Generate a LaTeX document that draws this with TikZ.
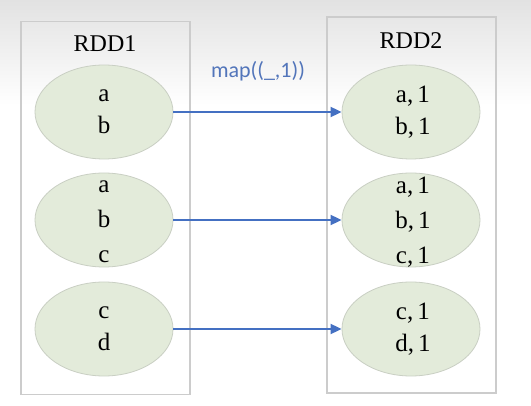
\documentclass[tikz,border=0pt]{standalone}
\usepackage{fontspec}
\setmainfont{Liberation Serif}
\newfontfamily\labelfont{Carlito}
\usetikzlibrary{shapes.geometric,arrows.meta}
\definecolor{partfill}{HTML}{E3EBDA}
\definecolor{partline}{HTML}{C9CFC3}
\definecolor{boxline}{HTML}{CCCCCC}
\definecolor{flowblue}{HTML}{4470C2}
\definecolor{labelblue}{HTML}{5275BA}
\definecolor{topshade}{HTML}{E2E2E2}
\begin{document}
\begin{tikzpicture}[x=1pt,y=-1pt,
  rddbox/.style={draw=boxline,line width=1.3pt,minimum width=169pt,inner sep=0pt},
  rddtitle/.style={font=\fontsize{24}{28}\selectfont,inner sep=0pt},
  part/.style={ellipse,draw=partline,line width=0.8pt,fill=partfill,
    minimum width=138pt,minimum height=94pt,inner sep=0pt},
  items/.style={inner sep=0pt,align=center,font=\fontsize{25}{32}\selectfont},
  items3/.style={items,font=\fontsize{25}{35}\selectfont},
  flow/.style={draw=flowblue,line width=1.8pt,-{Triangle[length=11pt,width=10pt]}}]
\useasboundingbox (0,0) rectangle (531,406);
% background: light grey band fading out towards the middle
\fill[white] (0,0) rectangle (531,406);
\shade[top color=topshade,bottom color=white] (0,0) rectangle (531,105);

% partition containers
\node[rddbox,minimum height=373pt] (box1) at (105.5,208) {};
\node[rddbox,minimum height=376pt] (box2) at (411.5,205) {};
\node[rddtitle] (t1) at (105,44) {RDD1};
\node[rddtitle] (t2) at (411,41) {RDD2};

% partitions of RDD1
\node[part] (p1) at (104,112) {};
\node[part] (p2) at (104,220) {};
\node[part] (p3) at (104,329) {};
\node[items]  (p1t) at (p1) {a\\b};
\node[items3] (p2t) at (104,222) {a\\b\\c};
\node[items]  (p3t) at (p3) {c\\d};

% partitions of RDD2
\node[part] (q1) at (411,112) {};
\node[part] (q2) at (411,220) {};
\node[part] (q3) at (411,329) {};
\node[items]  (q1t) at (413,112) {a,\,1\\b,\,1};
\node[items3] (q2t) at (413,222) {a,\,1\\b,\,1\\c,\,1};
\node[items]  (q3t) at (413,329) {c,\,1\\d,\,1};

% transformation
\draw[flow] (p1.east) -- (q1.west);
\draw[flow] (p2.east) -- (q2.west);
\draw[flow] (p3.east) -- (q3.west);
\node[text=labelblue,font=\labelfont\fontsize{22}{26}\selectfont,inner sep=0pt] (lbl) at (258,71) {map((\_,1))};
\end{tikzpicture}
\end{document}
